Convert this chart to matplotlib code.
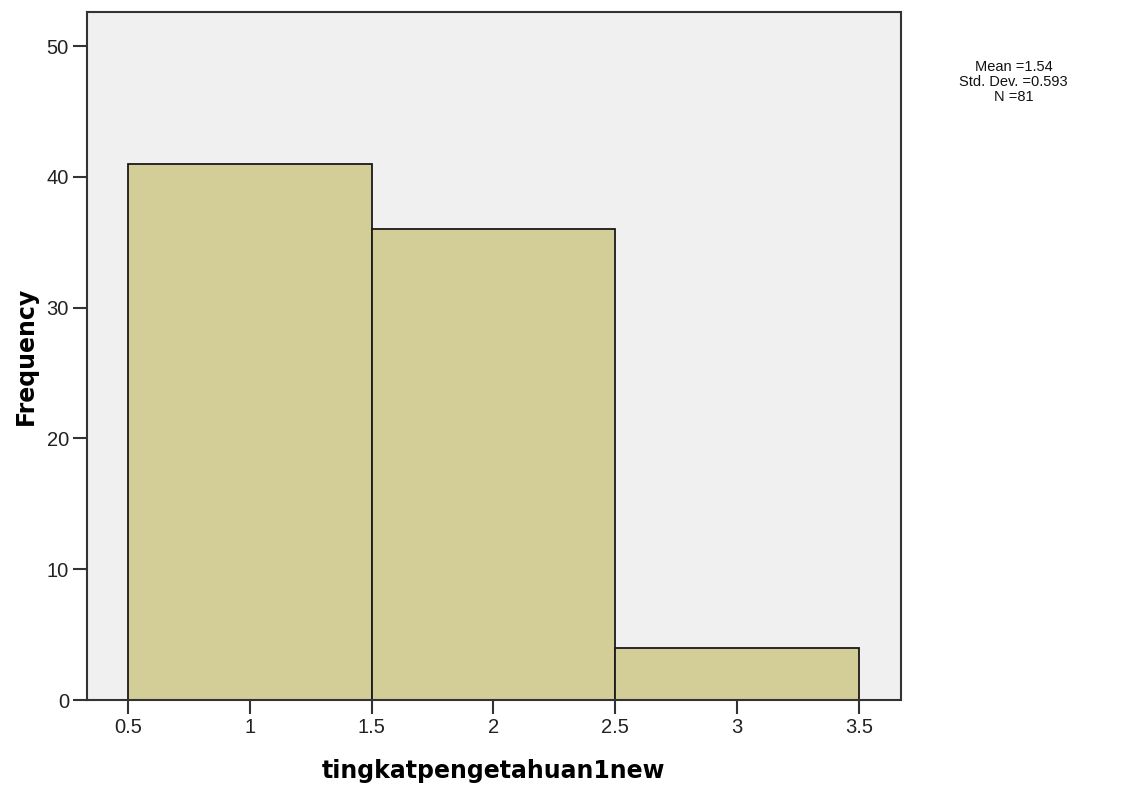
import numpy as np
import matplotlib.pyplot as plt

plt.rcParams['font.family'] = ['Liberation Sans', 'DejaVu Sans']

# histogram bins and counts
bin_edges = [0.5, 1.5, 2.5, 3.5]
counts = [41, 36, 4]
xticks = [0.5, 1, 1.5, 2, 2.5, 3, 3.5]
xtick_labels = ['0.5', '1', '1.5', '2', '2.5', '3', '3.5']
yticks = [0, 10, 20, 30, 40, 50]
stats_text = 'Mean =1.54\nStd. Dev. =0.593\nN =81'

fig = plt.figure(figsize=(11.34, 7.96), dpi=100)
ax = fig.add_axes([0.0767, 0.1206, 0.7178, 0.8643])
ax.set_facecolor('#f0f0f0')

widths = np.diff(bin_edges)
ax.bar(bin_edges[:-1], counts, width=widths, align='edge',
       color='#d3ce98', edgecolor='#1a1a1a', linewidth=1.3)

ax.set_xlim(0.332, 3.672)
ax.set_ylim(0, 52.6)
ax.set_xticks(xticks)
ax.set_xticklabels(xtick_labels)
ax.set_yticks(yticks)
ax.tick_params(axis='both', direction='out', length=10, width=1.5,
               color='#333333', labelsize=14.5, labelcolor='#222222', pad=3)

for s in ax.spines.values():
    s.set_color('#333333')
    s.set_linewidth(1.5)

ax.set_ylabel('Frequency', fontsize=17, fontweight='bold',
              family='DejaVu Sans', labelpad=6)
ax.set_xlabel('tingkatpengetahuan1new', fontsize=17, fontweight='bold',
              family='DejaVu Sans', labelpad=16)

fig.text(0.894, 0.924, stats_text, ha='center', va='top', fontsize=10.5,
         linespacing=1.08, color='#111111')

plt.savefig('out.png')
